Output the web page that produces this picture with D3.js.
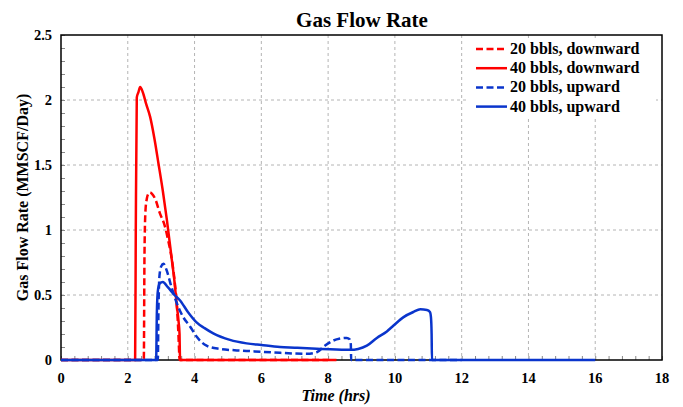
<!DOCTYPE html>
<html>
<head>
<meta charset="utf-8">
<script src="https://cdn.jsdelivr.net/npm/d3@7"></script>
<style>
  html, body { margin: 0; padding: 0; background: #fff; }
  svg { display: block; }
  text { font-family: "Liberation Serif", "Times New Roman", serif; font-weight: bold; fill: #000; }
</style>
</head>
<body>
<svg id="chart" width="683" height="407"></svg>
<script>
// Gas flow rate (MMSCF/Day) versus time (hrs) for four kick scenarios
const redSolidT = [0, 2.22, 2.24, 2.27, 2.32, 2.37, 2.45, 2.55, 2.67, 2.80, 2.92, 3.05, 3.17, 3.31, 3.40, 3.46, 3.52, 3.55, 3.56, 3.57, 8.25];
const redSolidQ = [0, 0, 1.0, 2.02, 2.06, 2.10, 2.06, 1.97, 1.87, 1.70, 1.51, 1.30, 1.08, 0.79, 0.60, 0.44, 0.30, 0.20, 0.05, 0, 0];

const redDashT = [0, 2.48, 2.50, 2.53, 2.57, 2.62, 2.67, 2.72, 2.82, 2.96, 3.11, 3.21, 3.31, 3.41, 3.48, 3.52, 3.54, 3.55, 8.0];
const redDashQ = [0, 0, 0.80, 1.15, 1.24, 1.28, 1.29, 1.28, 1.24, 1.13, 1.03, 0.92, 0.79, 0.59, 0.38, 0.18, 0.05, 0, 0];

const blueDashT = [0, 2.90, 2.92, 2.95, 3.00, 3.07, 3.15, 3.31, 3.45, 3.66, 3.86, 4.06, 4.36, 4.76, 5.20, 5.56, 6.00, 6.56, 7.00, 7.36, 7.66, 7.90, 8.16, 8.36, 8.56, 8.64, 8.68, 8.69, 12.0];
const blueDashQ = [0, 0, 0.40, 0.65, 0.72, 0.74, 0.70, 0.56, 0.45, 0.33, 0.26, 0.18, 0.11, 0.085, 0.075, 0.07, 0.063, 0.055, 0.05, 0.048, 0.06, 0.11, 0.15, 0.165, 0.17, 0.16, 0.12, 0, 0];

const blueSolidT = [0, 2.85, 2.87, 2.90, 2.96, 3.05, 3.20, 3.40, 3.56, 3.80, 4.06, 4.30, 4.56, 5.06, 5.56, 6.00, 6.56, 7.00, 7.66, 8.06, 8.66, 8.90, 9.16, 9.46, 9.76, 9.96, 10.26, 10.56, 10.76, 10.96, 11.05, 11.08, 11.10, 11.11, 16.0];
const blueSolidQ = [0, 0, 0.35, 0.53, 0.59, 0.60, 0.56, 0.50, 0.46, 0.37, 0.29, 0.245, 0.205, 0.155, 0.128, 0.115, 0.10, 0.095, 0.087, 0.082, 0.078, 0.085, 0.11, 0.17, 0.22, 0.265, 0.33, 0.37, 0.39, 0.385, 0.37, 0.33, 0.20, 0, 0];

const seriesNames = ["20 bbls, downward", "40 bbls, downward", "20 bbls, upward", "40 bbls, upward"];
const xTickValues = [0, 2, 4, 6, 8, 10, 12, 14, 16, 18];
const yTickValues = [0, 0.5, 1, 1.5, 2, 2.5];

const series = [
  { name: seriesNames[0], t: redDashT, q: redDashQ, color: "#ff0000", dash: "7,3.5" },
  { name: seriesNames[1], t: redSolidT, q: redSolidQ, color: "#ff0000", dash: null },
  { name: seriesNames[2], t: blueDashT, q: blueDashQ, color: "#0a35cc", dash: "7,3.5" },
  { name: seriesNames[3], t: blueSolidT, q: blueSolidQ, color: "#0a35cc", dash: null }
];

const svg = d3.select("#chart");
const m = { left: 61, right: 662, top: 35, bottom: 360 };

const x = d3.scaleLinear().domain([0, 18]).range([m.left, m.right]);
const y = d3.scaleLinear().domain([0, 2.5]).range([m.bottom, m.top]);

// grid
const grid = svg.append("g").attr("stroke", "#b4b4b4").attr("stroke-width", 1).attr("stroke-dasharray", "3,3");
xTickValues.slice(1, -1).forEach(v => {
  grid.append("line").attr("x1", x(v)).attr("x2", x(v)).attr("y1", m.top).attr("y2", m.bottom);
});
yTickValues.slice(1, -1).forEach(v => {
  grid.append("line").attr("x1", m.left).attr("x2", m.right).attr("y1", y(v)).attr("y2", y(v));
});

// axes with inward minor ticks
const xAxis = d3.axisBottom(x).tickValues(d3.range(0, 18.01, 0.4)).tickSize(-4).tickFormat("");
const gx = svg.append("g").attr("transform", `translate(0,${m.bottom})`).call(xAxis);
gx.selectAll("line").attr("stroke", "#888");
gx.select(".domain").remove();

const yAxis = d3.axisLeft(y).tickValues(d3.range(0, 2.501, 0.1)).tickSize(-4).tickFormat("");
const gy = svg.append("g").attr("transform", `translate(${m.left},0)`).call(yAxis);
gy.selectAll("line").attr("stroke", "#888");
gy.select(".domain").remove();

// tick labels
svg.append("g").selectAll("text").data(xTickValues).join("text")
  .attr("x", d => x(d)).attr("y", 383).attr("text-anchor", "middle")
  .attr("font-size", 14.5).text(d => d);
svg.append("g").selectAll("text").data(yTickValues).join("text")
  .attr("x", 52).attr("y", d => y(d) + 5).attr("text-anchor", "end")
  .attr("font-size", 14.5).text(d => d);

// frame
svg.append("rect").attr("x", m.left).attr("y", m.top)
  .attr("width", m.right - m.left).attr("height", m.bottom - m.top)
  .attr("fill", "none").attr("stroke", "#000").attr("stroke-width", 1.5);

// curves
const line = d3.line().x(d => x(d[0])).y(d => y(d[1])).curve(d3.curveMonotoneX);
const plot = svg.append("g");
series.forEach(s => {
  plot.append("path")
    .datum(s.t.map((t, i) => [t, s.q[i]]))
    .attr("d", line)
    .attr("fill", "none")
    .attr("stroke", s.color)
    .attr("stroke-width", 2.5)
    .attr("stroke-linejoin", "round")
    .attr("stroke-dasharray", s.dash);
});

// legend
const lg = svg.append("g");
lg.append("rect").attr("x", 468).attr("y", 38).attr("width", 188).attr("height", 79).attr("fill", "#fff");
series.forEach((s, i) => {
  const yy = 49 + i * 19.2;
  lg.append("line").attr("x1", 476).attr("x2", 507).attr("y1", yy).attr("y2", yy)
    .attr("stroke", s.color).attr("stroke-width", 2.5).attr("stroke-dasharray", s.dash);
  lg.append("text").attr("x", 510).attr("y", yy + 5).attr("font-size", 16).text(s.name);
});

// titles
svg.append("text").attr("x", 362).attr("y", 27).attr("text-anchor", "middle")
  .attr("font-size", 21).text("Gas Flow Rate");
svg.append("text").attr("x", 336).attr("y", 401).attr("text-anchor", "middle")
  .attr("font-size", 16).attr("font-style", "italic").text("Time (hrs)");
svg.append("text").attr("transform", `translate(28,${(m.top + m.bottom) / 2}) rotate(-90)`)
  .attr("text-anchor", "middle").attr("font-size", 16).text("Gas Flow Rate (MMSCF/Day)");
</script>
</body>
</html>
